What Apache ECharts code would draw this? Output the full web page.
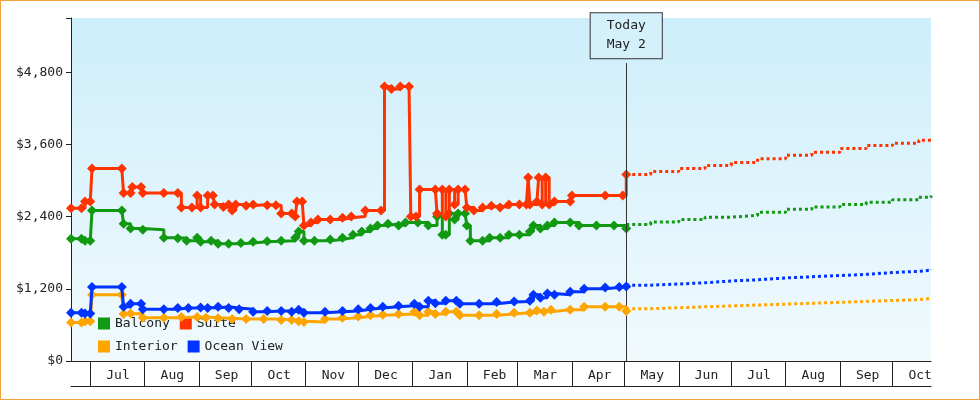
<!DOCTYPE html>
<html><head><meta charset="utf-8">
<script src="https://cdn.jsdelivr.net/npm/echarts@6/dist/echarts.min.js"></script>
<style>html,body{margin:0;padding:0}#c{width:978px;height:398px;border:1px solid #f0a040}</style>
</head><body><div id="c"></div>
<script>
const seriesNames = ['Balcony','Suite','Interior','Ocean View'];
const colors = ['#119911','#ff3300','#ffa500','#0033ff'];
const today = '2024-05-02';
const suite = [['2023-06-20',2540],['2023-06-26',2540],['2023-06-28',2650],['2023-07-01',2650],['2023-07-02',3200],['2023-07-19',3200],['2023-07-20',2790],['2023-07-24',2790],['2023-07-25',2890],['2023-07-30',2890],['2023-07-31',2790],['2023-08-12',2790],['2023-08-20',2790],['2023-08-22',2550],['2023-08-28',2550],['2023-08-31',2750],['2023-09-02',2550],['2023-09-06',2750],['2023-09-09',2750],['2023-09-10',2600],['2023-09-15',2560],['2023-09-18',2600],['2023-09-20',2500],['2023-09-22',2600],['2023-09-28',2580],['2023-10-02',2600],['2023-10-10',2590],['2023-10-15',2590],['2023-10-18',2450],['2023-10-24',2450],['2023-10-26',2400],['2023-10-27',2650],['2023-10-30',2650],['2023-10-31',2250],['2023-11-04',2300],['2023-11-08',2350],['2023-11-15',2350],['2023-11-22',2380],['2023-11-27',2400],['2023-12-05',2500],['2023-12-14',2500],['2023-12-16',4560],['2023-12-20',4520],['2023-12-25',4560],['2023-12-30',4560],['2023-12-31',2400],['2024-01-03',2400],['2024-01-05',2850],['2024-01-14',2850],['2024-01-15',2450],['2024-01-18',2850],['2024-01-20',2400],['2024-01-22',2850],['2024-01-25',2600],['2024-01-27',2850],['2024-01-31',2850],['2024-02-01',2550],['2024-02-05',2500],['2024-02-10',2550],['2024-02-15',2580],['2024-02-20',2550],['2024-02-25',2600],['2024-03-02',2600],['2024-03-06',2600],['2024-03-07',3050],['2024-03-08',2600],['2024-03-12',2650],['2024-03-13',3050],['2024-03-15',2600],['2024-03-17',3050],['2024-03-19',2600],['2024-03-22',2650],['2024-03-31',2650],['2024-04-01',2750],['2024-04-20',2750],['2024-04-30',2750],['2024-05-02',3100]];
const balcony = [['2023-06-20',2030],['2023-06-26',2030],['2023-06-28',2000],['2023-07-01',2000],['2023-07-02',2500],['2023-07-19',2500],['2023-07-20',2280],['2023-07-24',2200],['2023-07-31',2180],['2023-08-12',2050],['2023-08-20',2040],['2023-08-25',2000],['2023-08-31',2050],['2023-09-02',1980],['2023-09-08',2000],['2023-09-12',1950],['2023-09-18',1950],['2023-09-25',1960],['2023-10-02',1980],['2023-10-10',1990],['2023-10-18',2000],['2023-10-26',2050],['2023-10-28',2150],['2023-10-31',2000],['2023-11-06',2000],['2023-11-15',2020],['2023-11-22',2050],['2023-11-28',2100],['2023-12-03',2150],['2023-12-08',2200],['2023-12-12',2250],['2023-12-18',2280],['2023-12-24',2250],['2023-12-28',2300],['2024-01-04',2300],['2024-01-10',2250],['2024-01-15',2400],['2024-01-18',2100],['2024-01-20',2100],['2024-01-22',2450],['2024-01-25',2350],['2024-01-27',2450],['2024-01-31',2450],['2024-02-01',2250],['2024-02-03',2000],['2024-02-10',2000],['2024-02-14',2050],['2024-02-20',2050],['2024-02-25',2100],['2024-03-02',2100],['2024-03-08',2150],['2024-03-10',2250],['2024-03-14',2200],['2024-03-18',2250],['2024-03-22',2300],['2024-03-31',2300],['2024-04-05',2250],['2024-04-15',2250],['2024-04-25',2250],['2024-05-02',2200]];
const interior = [['2023-06-20',640],['2023-06-26',640],['2023-06-28',660],['2023-07-01',660],['2023-07-02',1100],['2023-07-19',1100],['2023-07-20',780],['2023-07-24',790],['2023-07-31',720],['2023-08-12',720],['2023-08-22',730],['2023-08-31',730],['2023-09-05',720],['2023-09-12',710],['2023-09-20',700],['2023-09-28',700],['2023-10-08',700],['2023-10-18',680],['2023-10-24',680],['2023-10-28',660],['2023-10-31',650],['2023-11-12',700],['2023-11-22',720],['2023-12-01',740],['2023-12-08',760],['2023-12-15',770],['2023-12-24',780],['2024-01-02',820],['2024-01-05',760],['2024-01-10',820],['2024-01-14',780],['2024-01-20',820],['2024-01-26',820],['2024-01-28',760],['2024-02-08',760],['2024-02-18',780],['2024-02-28',800],['2024-03-08',800],['2024-03-12',840],['2024-03-16',820],['2024-03-20',850],['2024-03-31',850],['2024-04-08',900],['2024-04-20',900],['2024-04-28',900],['2024-05-02',830]];
const oceanView = [['2023-06-20',800],['2023-06-26',800],['2023-06-28',790],['2023-07-01',790],['2023-07-02',1230],['2023-07-19',1230],['2023-07-20',900],['2023-07-24',950],['2023-07-30',950],['2023-07-31',860],['2023-08-12',860],['2023-08-20',880],['2023-08-26',880],['2023-09-02',890],['2023-09-06',880],['2023-09-12',900],['2023-09-18',880],['2023-09-24',860],['2023-10-02',820],['2023-10-10',830],['2023-10-18',830],['2023-10-24',820],['2023-10-28',850],['2023-10-31',800],['2023-11-12',820],['2023-11-22',830],['2023-12-01',860],['2023-12-08',880],['2023-12-15',900],['2023-12-24',920],['2024-01-02',950],['2024-01-05',900],['2024-01-10',1000],['2024-01-14',960],['2024-01-20',1000],['2024-01-26',1000],['2024-01-28',950],['2024-02-08',950],['2024-02-18',980],['2024-02-28',990],['2024-03-08',1000],['2024-03-10',1100],['2024-03-14',1050],['2024-03-18',1120],['2024-03-22',1100],['2024-03-31',1150],['2024-04-08',1200],['2024-04-20',1220],['2024-04-28',1230],['2024-05-02',1240]];
const projDates = ['2024-05-02','2024-05-16','2024-06-01','2024-06-16','2024-07-01','2024-07-16','2024-08-01','2024-08-16','2024-09-01','2024-09-16','2024-10-01','2024-10-16','2024-10-23'];
const suiteProj = [3100,3150,3200,3250,3300,3360,3420,3470,3530,3580,3620,3670,3700];
const balconyProj = [2270,2310,2350,2390,2420,2470,2520,2560,2600,2640,2680,2720,2750];
const interiorProj = [870,885,900,915,930,945,960,975,990,1005,1020,1040,1050];
const oceanProj = [1260,1280,1300,1330,1350,1380,1400,1420,1440,1470,1490,1510,1530];

const font = 'DejaVu Sans Mono';
const main = [balcony, suite, interior, oceanView];
const proj = [balconyProj, suiteProj, interiorProj, oceanProj];
const series = [];
main.forEach((d,i)=>{
  const s = {name:seriesNames[i], type:'line', step:'end', data:d, symbol:'diamond', symbolSize:10,
    lineStyle:{width:3,color:colors[i]}, itemStyle:{color:colors[i]}, z:3+i};
  if(i===0){
    s.markLine = {silent:true, symbol:'none', lineStyle:{color:'#333',width:1,type:'solid'},
      data:[[{coord:[today,0]},{coord:[today,4950],label:{show:true,position:'end',formatter:'Today\nMay 2',
        fontFamily:font,fontSize:13,color:'#222',backgroundColor:'#d4f0fb',borderColor:'#333',borderWidth:1,padding:[3,16,4,16],lineHeight:19}}]]};
  }
  series.push(s);
});
proj.forEach((p,i)=>{
  series.push({type:'line', step:'end', data:projDates.map((d,k)=>[d,p[k]]), symbol:'none',
    lineStyle:{width:3,type:[3,3],color:colors[i]}, z:2});
});
const chart = echarts.init(document.getElementById('c'));
chart.setOption({
  animation:false,
  grid:{left:70,right:48,top:17,bottom:38,show:true,borderWidth:0,
    backgroundColor:new echarts.graphic.LinearGradient(0,0,0,1,[{offset:0,color:'#cdeefb'},{offset:1,color:'#f1fafd'}])},
  legend:{data:seriesNames.map((n,i)=>({name:n,icon:'rect',itemStyle:{color:colors[i]}})), left:92, top:311, width:200, itemWidth:12, itemHeight:12, itemGap:10,
    textStyle:{fontFamily:font,fontSize:13,color:'#222'}},
  xAxis:[{type:'time', min:'2023-06-20', max:'2024-10-23', minInterval:28*86400000, maxInterval:31*86400000,
    axisLine:{lineStyle:{color:'#222',width:1}},
    axisTick:{length:25,lineStyle:{color:'#222'}},
    axisLabel:{fontFamily:font,fontSize:13,color:'#222',align:'left',padding:[0,0,0,16],margin:8,
      formatter:v=>['Jan','Feb','Mar','Apr','May','Jun','Jul','Aug','Sep','Oct','Nov','Dec'][new Date(v).getMonth()]},
    splitLine:{show:false}},
   {type:'value', position:'bottom', offset:25, min:0, max:1, axisLine:{show:true,lineStyle:{color:'#222'}}, axisTick:{show:false}, axisLabel:{show:false}, splitLine:{show:false}}],
  yAxis:{type:'value', min:0, max:5700, interval:1200,
    axisLine:{show:true,lineStyle:{color:'#222'}}, axisTick:{show:true,length:5,interval:0},
    axisLabel:{fontFamily:font,fontSize:13,color:'#222',formatter:v=>v%1200===0&&v<=4800?'$'+v.toLocaleString('en-US'):''},
    splitLine:{show:false}},
  series:series
});
</script></body></html>
